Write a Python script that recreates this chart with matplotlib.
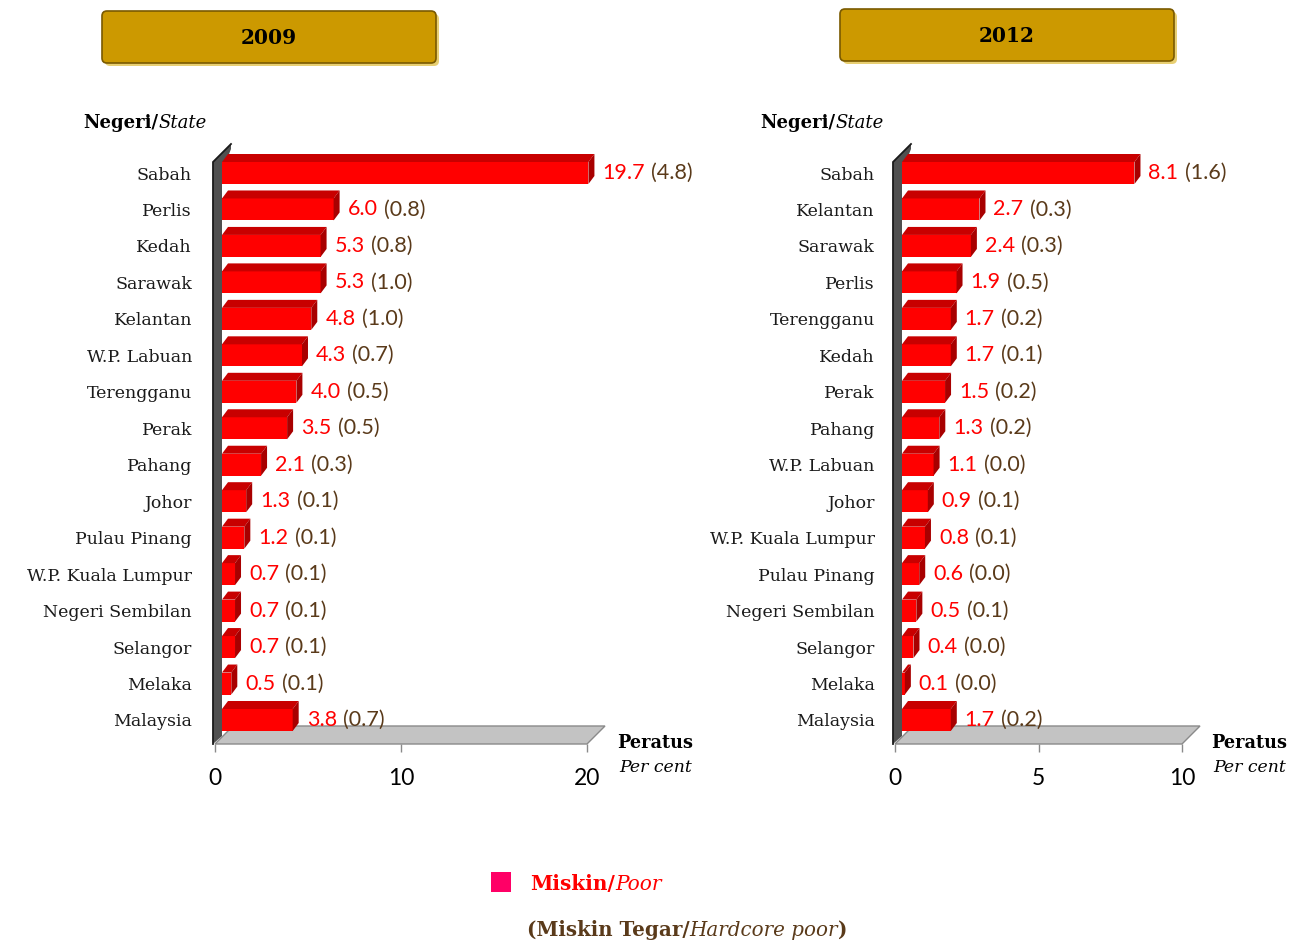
import matplotlib
matplotlib.use("Agg")
import matplotlib.pyplot as plt
from matplotlib.patches import Polygon, FancyBboxPatch, Rectangle
import numpy as np

# ---------------- data ----------------
states_2009 = ["Sabah", "Perlis", "Kedah", "Sarawak", "Kelantan", "W.P. Labuan",
               "Terengganu", "Perak", "Pahang", "Johor", "Pulau Pinang",
               "W.P. Kuala Lumpur", "Negeri Sembilan", "Selangor", "Melaka", "Malaysia"]
poor_2009 = [19.7, 6.0, 5.3, 5.3, 4.8, 4.3, 4.0, 3.5, 2.1, 1.3, 1.2, 0.7, 0.7, 0.7, 0.5, 3.8]
hardcore_2009 = [4.8, 0.8, 0.8, 1.0, 1.0, 0.7, 0.5, 0.5, 0.3, 0.1, 0.1, 0.1, 0.1, 0.1, 0.1, 0.7]

states_2012 = ["Sabah", "Kelantan", "Sarawak", "Perlis", "Terengganu", "Kedah", "Perak",
               "Pahang", "W.P. Labuan", "Johor", "W.P. Kuala Lumpur", "Pulau Pinang",
               "Negeri Sembilan", "Selangor", "Melaka", "Malaysia"]
poor_2012 = [8.1, 2.7, 2.4, 1.9, 1.7, 1.7, 1.5, 1.3, 1.1, 0.9, 0.8, 0.6, 0.5, 0.4, 0.1, 1.7]
hardcore_2012 = [1.6, 0.3, 0.3, 0.5, 0.2, 0.1, 0.2, 0.2, 0.0, 0.1, 0.1, 0.0, 0.1, 0.0, 0.0, 0.2]

ticks_2009 = [0, 10, 20]
ticks_2012 = [0, 5, 10]
years = ["2009", "2012"]

# ---------------- style ----------------
W, H, DPI = 1299, 944, 100
RED = "#ff0000"
RED_TOP = "#c80000"
RED_SIDE = "#a80000"
BROWN = "#5a3a1a"
GOLD = "#cc9900"
SERIF = "DejaVu Serif"
SANS = "Lato"

FLOOR_Y, TOP_Y = 744, 140        # panel vertical extent (px)
ROW_FIRST, ROW_LAST = 173, 720   # first / last row centres (px)
DEPTH = 18                        # wall / floor depth (px)
BAR_SHIFT = 7                     # bars start after wall (px)
BAR_DX, BAR_DY = 6, 8             # bar 3-D depth (px)
BAR_H = 22                        # bar thickness (px)

fig = plt.figure(figsize=(W / DPI, H / DPI), dpi=DPI)
ov = fig.add_axes([0, 0, 1, 1])
ov.set_xlim(0, W)
ov.set_ylim(H, 0)
ov.axis("off")


def chain(first, parts, **kw):
    """Place text parts one after another."""
    prev = first
    for txt, props in parts:
        prev = ov.annotate(txt, xy=(1, 0.5), xycoords=prev, xytext=(0, 0),
                           textcoords="offset points", ha="left", va="center",
                           **props, **kw)
    return prev


def draw_panel(x0, x1, xmax, ticks, states, poor, hard, ylabel_pad):
    ax = fig.add_axes([x0 / W, 1 - FLOOR_Y / H, (x1 - x0) / W, (FLOOR_Y - TOP_Y) / H])
    ax.patch.set_alpha(0)
    n = len(states)
    pos = np.arange(n)[::-1]
    row_px = (ROW_LAST - ROW_FIRST) / (n - 1)
    sx = (x1 - x0) / xmax
    px2x = lambda p: p / sx
    px2y = lambda p: p / row_px
    ylo = -px2y(FLOOR_Y - ROW_LAST)
    yhi = (n - 1) + px2y(ROW_FIRST - TOP_Y)
    ax.set_xlim(0, xmax)
    ax.set_ylim(ylo, yhi)
    for s in ax.spines.values():
        s.set_visible(False)

    # floor
    d_x, d_y = px2x(DEPTH), px2y(DEPTH)
    floor = Polygon([(0, ylo), (xmax, ylo), (xmax + d_x, ylo + d_y), (d_x, ylo + d_y)],
                    closed=True, facecolor="#c3c3c3", edgecolor="#8a8a8a", lw=1,
                    clip_on=False, zorder=1)
    ax.add_patch(floor)
    # wall
    wl, wr = -px2x(2), px2x(BAR_SHIFT)
    wtop = yhi - px2y(22)
    wall = Polygon([(wl, ylo), (wl, wtop), (wl + d_x, wtop + d_y), (wl + d_x, wtop + d_y - px2y(5)),
                    (wr, wtop - px2y(10)), (wr, ylo + px2y(8))],
                   closed=True, facecolor="#505050", edgecolor="none", clip_on=False, zorder=2)
    ax.add_patch(wall)
    ax.plot([wl, wl, wl + d_x], [ylo, wtop, wtop + d_y], color="#1a1a1a", lw=1.3,
            clip_on=False, zorder=3, solid_joinstyle="miter")

    # bars
    shift = px2x(BAR_SHIFT)
    bh = px2y(BAR_H)
    bars = ax.barh(pos, poor, left=shift, height=bh, color=RED, edgecolor="none", zorder=5)
    for b in bars:
        b.set_clip_on(False)
    bdx, bdy = px2x(BAR_DX), px2y(BAR_DY)
    for p, v in zip(pos, poor):
        top, bot = p + bh / 2, p - bh / 2
        xe = shift + v
        ax.add_patch(Polygon([(shift, top), (xe, top), (xe + bdx, top + bdy), (shift + bdx, top + bdy)],
                             closed=True, facecolor=RED_TOP, edgecolor="none", zorder=5, clip_on=False))
        ax.add_patch(Polygon([(xe, bot), (xe, top), (xe + bdx, top + bdy), (xe + bdx, bot + bdy)],
                             closed=True, facecolor=RED_SIDE, edgecolor="none", zorder=5, clip_on=False))

    # value labels
    for p, v, h in zip(pos, poor, hard):
        t = ax.text(shift + v + bdx + px2x(8), p, f"{v:.1f}", color=RED, fontsize=15.5,
                    family=SANS, ha="left", va="center", zorder=6, clip_on=False)
        ax.annotate(f"({h:.1f})", xy=(1, 0.5), xycoords=t, xytext=(4.5, 0),
                    textcoords="offset points", ha="left", va="center",
                    color=BROWN, fontsize=15.5, family=SANS)

    # axes ticks
    ax.set_xticks(ticks)
    ax.set_xticklabels([str(t) for t in ticks], fontsize=16.5, family=SANS)
    ax.tick_params(axis="x", direction="out", length=6, width=1, color="#8a8a8a", pad=11)
    ax.set_yticks(pos)
    ax.set_yticklabels(states, fontsize=12.5, family=SERIF, color="#1a1a1a")
    ax.tick_params(axis="y", length=0, pad=ylabel_pad)
    return ax


draw_panel(215, 587, 20, ticks_2009, states_2009, poor_2009, hardcore_2009, 16.5)
draw_panel(895, 1182, 10, ticks_2012, states_2012, poor_2012, hardcore_2012, 14.5)

# ---------------- title boxes ----------------
for (bx, by), yr in zip([(102, 11), (840, 9)], years):
    bw, bhh = 334, 52
    ov.add_patch(FancyBboxPatch((bx + 3, by + 3), bw, bhh, boxstyle="round,pad=0,rounding_size=5",
                                facecolor="#e8cf72", edgecolor="none", zorder=1))
    ov.add_patch(FancyBboxPatch((bx, by), bw, bhh, boxstyle="round,pad=0,rounding_size=5",
                                facecolor=GOLD, edgecolor="#7a5a00", lw=1.2, zorder=2))
    ov.text(bx + bw / 2, by + bhh / 2 + 1, yr, ha="center", va="center", fontsize=14.5,
            fontweight="bold", family=SERIF, color="black", zorder=3)

# ---------------- headers ----------------
for hx in (83, 760):
    t = ov.text(hx, 123, "Negeri/", ha="left", va="center", fontsize=13, fontweight="bold",
                family=SERIF, color="black")
    chain(t, [("State", dict(fontstyle="italic", color="black"))], fontsize=13, family=SERIF)

for px_ in (617, 1211):
    ov.text(px_, 743, "Peratus", ha="left", va="center", fontsize=12.7, fontweight="bold",
            family=SERIF, color="black")
    ov.text(px_ + 2, 768, "Per cent", ha="left", va="center", fontsize=12.4, fontstyle="italic",
            family=SERIF, color="black")

# ---------------- legend ----------------
ov.add_patch(Rectangle((491, 872), 20, 20, facecolor="#ff0066", edgecolor="none"))
t = ov.text(530, 884, "Miskin/", ha="left", va="center", fontsize=14.5, fontweight="bold",
            family=SERIF, color=RED)
chain(t, [("Poor", dict(fontstyle="italic", color=RED))], fontsize=14.5, family=SERIF)
t = ov.text(527, 930, "(Miskin Tegar/", ha="left", va="center", fontsize=14.3, fontweight="bold",
            family=SERIF, color=BROWN)
t2 = chain(t, [("Hardcore poor", dict(fontstyle="italic", color=BROWN))], fontsize=14.3, family=SERIF)
chain(t2, [(")", dict(fontweight="bold", color=BROWN))], fontsize=14.3, family=SERIF)

fig.savefig("out.png", dpi=DPI)
